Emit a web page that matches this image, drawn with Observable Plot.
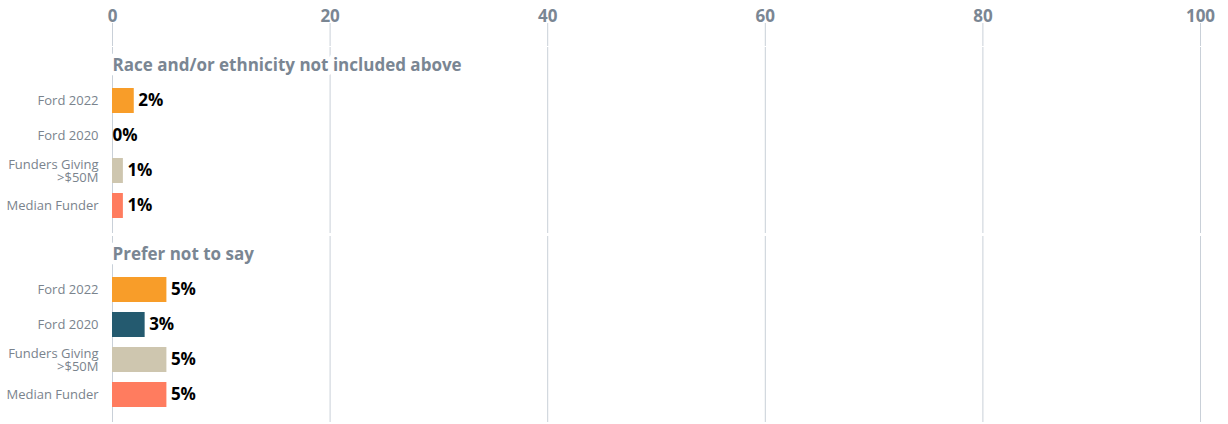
<!DOCTYPE html>
<html><head><meta charset="utf-8">
<script src="https://cdn.jsdelivr.net/npm/d3@7"></script>
<script src="https://cdn.jsdelivr.net/npm/@observablehq/plot@0.6"></script>
<style>
html,body{margin:0;padding:0;background:#fff;font-family:"Open Sans",sans-serif}
</style>
</head><body><div id="chart"></div>
<script>
const groups = ["Race and/or ethnicity not included above", "Prefer not to say"];
const funders = ["Ford 2022", "Ford 2020", "Funders Giving >$50M", "Median Funder"];
const raceValues = [2, 0, 1, 1];
const preferValues = [5, 3, 5, 5];
const colors = ["#F89D29", "#245A6F", "#CEC6AF", "#FF7C5F"];
const xTicks = [0, 20, 40, 60, 80, 100];

const TITLE = "__title";
const data = [];
[raceValues, preferValues].forEach((vals, gi) =>
  vals.forEach((v, i) => data.push({group: groups[gi], funder: funders[i], value: v})));
const titles = groups.map(g => ({group: g, funder: TITLE}));

const chart = Plot.plot({
  width: 1228, height: 424,
  marginLeft: 112, marginRight: 28, marginTop: 47, marginBottom: 2,
  style: {fontFamily: '"Open Sans", sans-serif', background: "#fff", overflow: "visible"},
  x: {domain: [0, 100], label: null},
  y: {domain: [TITLE, ...funders], label: null, paddingInner: 0.28, paddingOuter: 0.14, insetBottom: 9.7},
  fy: {domain: groups, axis: null, label: null, paddingInner: 0.0159, paddingOuter: 0},
  color: {domain: funders, range: colors},
  marks: [
    Plot.gridX(xTicks, {stroke: "#c9d0d8", strokeOpacity: 1, strokeWidth: 1}),
    Plot.axisX(xTicks, {anchor: "top", label: null, tickSize: 23, tickPadding: 1, dy: -2,
      fontSize: 17, fontWeight: 700, fill: "#7a8693", stroke: "#c9d0d8", strokeOpacity: 1, tickFormat: d => String(d)}),
    Plot.axisY({label: null, tickSize: 0, tickPadding: 14, fontSize: 13, fill: "#7a838d", lineHeight: 1.05,
      tickFormat: d => d === TITLE ? "" : d.replace(" >", "\n>")}),
    Plot.text(titles, {x: 0, y: "funder", fy: "group", text: "group", textAnchor: "start",
      fontSize: 17, fontWeight: 700, fill: "#7a8693", stroke: "white", strokeWidth: 9, paintOrder: "stroke"}),
    Plot.barX(data, {x: "value", y: "funder", fy: "group", fill: "funder"}),
    Plot.text(data.filter(d => d.value > 0), {x: "value", y: "funder", fy: "group", text: d => d.value + "%",
      textAnchor: "start", dx: 4, fontSize: 17, fontWeight: 700, fill: "#000"}),
    Plot.text(data.filter(d => d.value === 0), {x: "value", y: "funder", fy: "group", text: d => d.value + "%",
      textAnchor: "start", dx: 0, fontSize: 17, fontWeight: 700, fill: "#000"})
  ]
});
document.getElementById("chart").append(chart);
</script>
</body></html>
